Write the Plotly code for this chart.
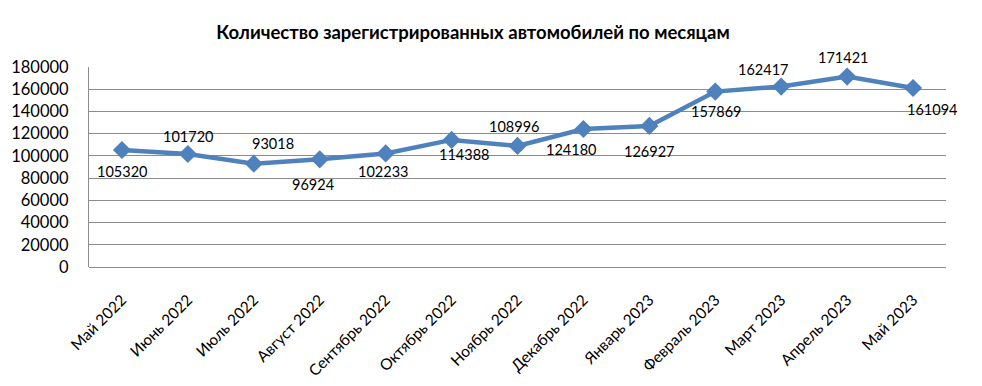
import plotly.graph_objects as go

months = ["Май 2022", "Июнь 2022", "Июль 2022", "Август 2022", "Сентябрь 2022",
          "Октябрь 2022", "Ноябрь 2022", "Декабрь 2022", "Январь 2023",
          "Февраль 2023", "Март 2023", "Апрель 2023", "Май 2023"]
registrations = [105320, 101720, 93018, 96924, 102233, 114388, 108996,
                 124180, 126927, 157869, 162417, 171421, 161094]
y_ticks = [0, 20000, 40000, 60000, 80000, 100000, 120000, 140000, 160000, 180000]

# label offsets (pixels) relative to each point
label_dx = [0, 0, 19, -7, -3, 12, -4, -12, 0, 1, -18, -4, 19]
label_dy = [-22, 17, 20, -25, -18, -15, 19, -20, -26, -20, 17, 19, -21]

LINE = "#4F81BD"
FONT = "Lato, 'Open Sans', Arial, sans-serif"

# page body has an 8px default margin, so the figure is sized/shifted to compensate
W, H = 974, 378

fig = go.Figure()
fig.add_trace(go.Scatter(
    x=months, y=registrations, mode="lines+markers",
    line=dict(color=LINE, width=4.5),
    marker=dict(symbol="diamond", size=14, color=LINE),
    hoverinfo="x+y", showlegend=False,
))

for m, v, dx, dy in zip(months, registrations, label_dx, label_dy):
    fig.add_annotation(x=m, y=v, text=str(v), showarrow=False,
                       xshift=dx, yshift=dy,
                       font=dict(size=14.5, color="#000000", family=FONT))

fig.update_layout(
    width=W, height=H,
    margin=dict(l=81, r=36, t=59, b=119, autoexpand=False),
    paper_bgcolor="white", plot_bgcolor="white",
    title=dict(text="<b>Количество зарегистрированных автомобилей по месяцам</b>",
               x=465 / W, xanchor="center", y=1 - 25 / H, yanchor="middle",
               font=dict(size=18.5, color="#000000", family=FONT)),
    font=dict(family=FONT, color="#000000"),
)
fig.update_xaxes(type="category", range=[-0.5, 12.5], tickangle=-45,
                 tickfont=dict(size=15.5, color="#000000"), automargin=False,
                 showgrid=False, showline=False, ticks="", ticklen=0,
                 ticklabelstandoff=20)
fig.update_yaxes(range=[0, 180000], tickvals=y_ticks, automargin=False,
                 ticktext=[str(t) for t in y_ticks],
                 tickfont=dict(size=16.5, color="#000000"),
                 showgrid=True, gridcolor="#8C8C8C", gridwidth=1.2,
                 showline=True, linecolor="#8C8C8C", linewidth=1.2,
                 zeroline=True, zerolinecolor="#8C8C8C", zerolinewidth=1.2,
                 ticks="", ticklabelstandoff=16)

fig.write_html("out.html")
